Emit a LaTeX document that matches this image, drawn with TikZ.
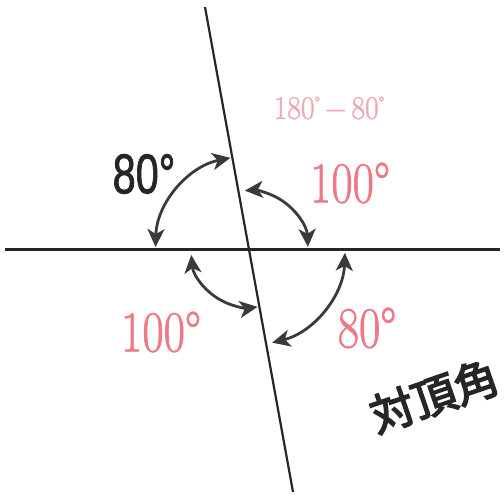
\documentclass[tikz,border=0pt]{standalone}
\usepackage{fontspec}
\newfontfamily\sansnum[FakeBold=1.6]{Liberation Sans}
\newfontfamily\pinkfont[FakeBold=1.3]{Latin Modern Roman}
\newfontfamily\cjk[FakeBold=3.5]{Noto Sans CJK JP}
\usetikzlibrary{arrows.meta}
\definecolor{pinkA}{RGB}{236,122,134}
\definecolor{pinkB}{RGB}{242,168,176}
\definecolor{arcgray}{RGB}{58,58,58}
\tikzset{
  mainline/.style={draw=black!85, line width=2.2pt},
  dblarc/.style={draw=arcgray, line width=2.8pt,
    {Stealth[length=18pt,width=17pt,inset=5pt]}-{Stealth[length=18pt,width=17pt,inset=5pt]}},
  pinklbl/.style={text=pinkA, font=\pinkfont\fontsize{58}{58}\selectfont, xscale=0.8, inner sep=0pt},
  blacklbl/.style={text=black!85, font=\sansnum\fontsize{56}{56}\selectfont, xscale=0.74, inner sep=0pt},
  smalllbl/.style={text=pinkB, font=\pinkfont\fontsize{33}{33}\selectfont, xscale=0.9, inner sep=0pt},
  cjklbl/.style={text=black!85, font=\cjk\fontsize{44}{44}\selectfont, inner sep=0pt}
}
\begin{document}
\begin{tikzpicture}[x=1pt,y=1pt]
\useasboundingbox (0,0) rectangle (504,495);
\coordinate (C) at (249,245.5);
\coordinate (T) at (205,488);
\coordinate (B) at (293,3);
\coordinate (L) at (5,245.5);
\coordinate (R) at (500,245.5);
\draw[mainline] (T) -- (B);
\draw[mainline] (L) -- (R);
% angle arrows
\draw[dblarc] ([shift={(101.5:93.5)}]C) arc[start angle=101.5, end angle=178.5, radius=93.5];
\draw[dblarc] ([shift={(2.5:59)}]C) arc[start angle=2.5, end angle=94, radius=59];
\draw[dblarc] ([shift={(185.5:58)}]C) arc[start angle=185.5, end angle=278.5, radius=58];
\draw[dblarc] ([shift={(284:96)}]C) arc[start angle=284, end angle=358, radius=96];
% labels
\node[blacklbl] (ul) at (144,321) {80°};
\node[pinklbl] (ur) at (350,312) {100°};
\node[pinklbl] (ll) at (161,163) {100°};
\node[pinklbl] (lr) at (367,167) {80°};
\node[smalllbl] (calc) at (329,387) {180\raisebox{0.3em}{\fontsize{18}{18}\selectfont °}\,−\,80\raisebox{0.3em}{\fontsize{18}{18}\selectfont °}};
\node[cjklbl, rotate=19] (title) at (434,99) {対頂角};
\end{tikzpicture}
\end{document}
